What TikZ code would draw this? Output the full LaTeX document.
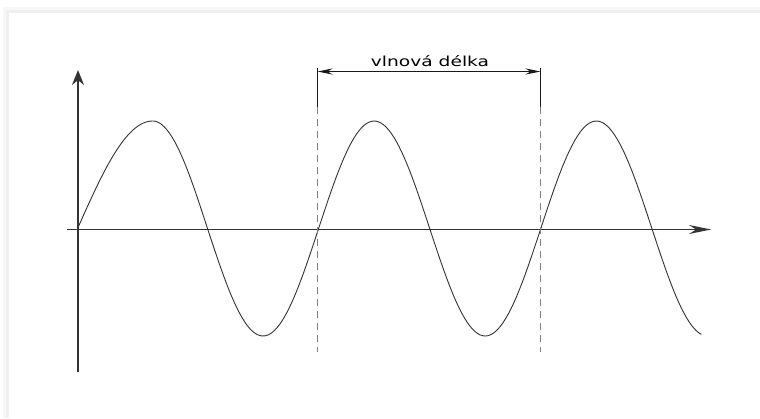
\documentclass[tikz,border=0pt]{standalone}
\usepackage{fontspec}
\setmainfont{DejaVu Sans}
\usetikzlibrary{arrows.meta}

\begin{document}
\begin{tikzpicture}[x=1pt,y=-1pt,
  wave/.style={line width=0.9pt,black!80},
  axis/.style={line width=1.4pt,black!80},
  tick/.style={line width=0.9pt,black!90},
  guide/.style={line width=0.8pt,black!50,dash pattern=on 7pt off 5pt}]

\useasboundingbox (0,0) rectangle (760,418);

% card with a soft shadow
\fill[black!3] (3,7) rectangle (760,418);
\fill[black!6] (6,10) rectangle (760,418);
\fill[white] (9,13) rectangle (760,418);

% axes
\coordinate (xs) at (67,229.5);
\coordinate (xe) at (711,229.5);
\coordinate (yb) at (78,372);
\coordinate (yt) at (78,70);
\draw[axis,-{Stealth[length=22pt,width=9pt]}] (xs) -- (xe);
\draw[axis,-{Stealth[length=15pt,width=12pt]}] (yb) -- (yt);

% the wave
\draw[wave] plot[domain=0:90,samples=40,variable=\t] ({77.6+0.83444*\t},{228.5-107.5*sin(\t)})
  -- plot[domain=0:90,samples=40,variable=\t] ({152.7+0.60889*\t},{228.5-107.5*cos(\t)})
  -- plot[domain=0:800,samples=200,variable=\t] ({207.5+0.61722*\t},{228.5+107.5*sin(\t)});

% wavelength marks
\coordinate (l1t) at (317.5,68);
\coordinate (l1m) at (317.5,107);
\coordinate (l1b) at (317.5,352);
\coordinate (l2t) at (540.5,68);
\coordinate (l2m) at (540.5,107);
\coordinate (l2b) at (540.5,352);
\draw[tick] (l1t) -- (l1m);
\draw[tick] (l2t) -- (l2m);
\draw[guide] (l1m) -- (l1b);
\draw[guide] (l2m) -- (l2b);

\coordinate (a1) at (317.5,71.5);
\coordinate (a2) at (540.5,71.5);
\draw[tick,{Stealth[length=15pt,width=6pt]}-{Stealth[length=15pt,width=6pt]}] (a1) -- (a2);

\node[anchor=base,xscale=1.35,text=black,font=\fontsize{13.8}{16}\selectfont] (lbl) at (430,66.5) {vlnová délka};

\end{tikzpicture}
\end{document}
